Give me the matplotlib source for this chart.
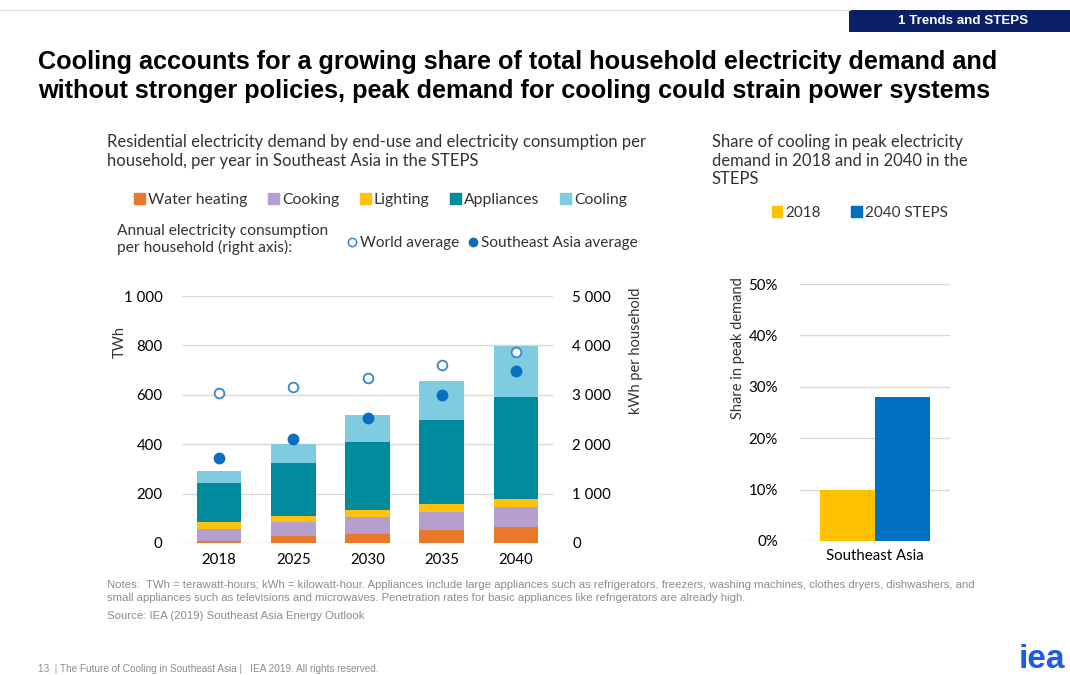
import matplotlib.pyplot as plt
import numpy as np
from matplotlib.patches import Patch, Rectangle
from matplotlib.lines import Line2D

plt.rcParams["font.family"] = ["Lato", "DejaVu Sans"]
plt.rcParams["font.size"] = 10.5
plt.rcParams["text.color"] = "#333333"

# data
years = ['2018', '2025', '2030', '2035', '2040']
water_heating = [10, 27, 38, 51, 66]
cooking = [47, 56, 67, 74, 79]
lighting = [26, 25, 30, 34, 35]
appliances = [159, 216, 273, 339, 412]
cooling = [50, 78, 112, 156, 206]
world_avg = [3040, 3150, 3345, 3594, 3870]      # kWh per household
sea_avg = [1730, 2107, 2537, 3001, 3486]

peak_region = ['Southeast Asia']
peak_2018 = [0.10]
peak_2040 = [0.28]

series = [('Water heating', water_heating, '#E8782A'),
          ('Cooking', cooking, '#B49FCE'),
          ('Lighting', lighting, '#FFC20E'),
          ('Appliances', appliances, '#008A9B'),
          ('Cooling', cooling, '#7FCCE0')]

fig = plt.figure(figsize=(10.7, 6.75), dpi=100)
W, H = 1070, 675

def fx(x):
    return x / W

def fy(y):
    return 1 - y / H

# slide decoration
fig.add_artist(Line2D([0, fx(850)], [fy(10), fy(10)], color='#d9d9d9', lw=0.8))
fig.add_artist(Rectangle((fx(849), fy(32)), fx(221), fy(10) - fy(32), color='#0B1F66', lw=0))
fig.text(fx(963), fy(21), '1 Trends and STEPS', color='white', fontsize=9.6, fontweight='bold',
         family=['Liberation Sans'], ha='center', va='center')

fig.text(fx(38), fy(62), 'Cooling accounts for a growing share of total household electricity demand and',
         fontsize=18.2, fontweight='bold', family=['Liberation Sans'], color='black', va='center')
fig.text(fx(38), fy(91), 'without stronger policies, peak demand for cooling could strain power systems',
         fontsize=18.2, fontweight='bold', family=['Liberation Sans'], color='black', va='center')

fig.text(fx(107), fy(134), 'Residential electricity demand by end-use and electricity consumption per\n'
         'household, per year in Southeast Asia in the STEPS', fontsize=12, va='top', linespacing=1.2)
fig.text(fx(712), fy(134), 'Share of cooling in peak electricity\ndemand in 2018 and in 2040 in the\nSTEPS',
         fontsize=12, va='top', linespacing=1.2)

# left chart
ax1 = fig.add_axes([fx(182), fy(543), fx(553 - 182), fy(296) - fy(543)])
x = np.arange(len(years))
bottom = np.zeros(len(years))
for name, vals, col in series:
    ax1.bar(x, vals, 0.6, bottom=bottom, color=col, label=name, zorder=2)
    bottom += np.array(vals)
ax1.set_xlim(-0.5, 4.5)
ax1.set_ylim(0, 1000)
ax1.set_yticks(range(0, 1001, 200))
ax1.set_yticklabels([f'{v:,}'.replace(',', ' ') for v in range(0, 1001, 200)])
ax1.set_xticks(x)
ax1.set_xticklabels(years)
ax1.grid(axis='y', color='#d9d9d9', lw=1, zorder=0)
ax1.tick_params(length=0, labelsize=10.8)
ax1.tick_params(axis='y', pad=14)
ax1.tick_params(axis='x', pad=7)
for s in ax1.spines.values():
    s.set_visible(False)

ax2 = ax1.twinx()
ax2.set_ylim(0, 5000)
ax2.set_yticks(range(0, 5001, 1000))
ax2.set_yticklabels([f'{v:,}'.replace(',', ' ') for v in range(0, 5001, 1000)])
ax2.tick_params(length=0, pad=14, labelsize=10.8)
for s in ax2.spines.values():
    s.set_visible(False)
ax2.plot(x, world_avg, 'o', ms=7, mfc='white', mec='#3A86C8', mew=1.3, zorder=3)
ax2.plot(x, sea_avg, 'o', ms=7.5, color='#0B6FC1', zorder=3)

fig.text(fx(120), fy(342), 'TWh', rotation=90, ha='center', va='center', fontsize=10.5)
fig.text(fx(636), fy(351), 'kWh per household', rotation=90, ha='center', va='center', fontsize=10.5)

handles = [Patch(color=c, label=n) for n, _, c in series]
fig.legend(handles=handles, loc='center left', bbox_to_anchor=(fx(126), fy(200)), ncol=5,
           frameon=False, handlelength=0.7, handleheight=0.7, handletextpad=0.2,
           columnspacing=1.3, borderpad=0, fontsize=11.3)

fig.text(fx(117), fy(224), 'Annual electricity consumption\nper household (right axis):',
         va='top', linespacing=1.2, fontsize=11.2)
mk = [Line2D([], [], ls='none', marker='o', ms=6, mfc='white', mec='#3A86C8', mew=1.1, label='World average'),
      Line2D([], [], ls='none', marker='o', ms=6, color='#0B6FC1', label='Southeast Asia average')]
fig.legend(handles=mk, loc='center left', bbox_to_anchor=(fx(338), fy(243)), ncol=2, frameon=False,
           handlelength=0.8, handletextpad=0.1, columnspacing=0.55, borderpad=0, fontsize=11.1)

# right chart
ax3 = fig.add_axes([fx(800), fy(541), fx(950 - 800), fy(284) - fy(541)])
bw = 0.35
ax3.bar([-bw / 2], peak_2018, bw, color='#FFC000', label='2018', zorder=2)
ax3.bar([bw / 2], peak_2040, bw, color='#0070C0', label='2040 STEPS', zorder=2)
ax3.set_xlim(-0.48, 0.48)
ax3.set_ylim(0, 0.5)
ax3.set_yticks(np.arange(0, 0.51, 0.1))
ax3.set_yticklabels([f'{int(round(v * 100))}%' for v in np.arange(0, 0.51, 0.1)])
ax3.set_xticks([0])
ax3.set_xticklabels(peak_region)
ax3.grid(axis='y', color='#d9d9d9', lw=1, zorder=0)
ax3.tick_params(length=0, labelsize=10.8)
ax3.tick_params(axis='y', pad=16)
ax3.tick_params(axis='x', pad=6)
for s in ax3.spines.values():
    s.set_visible(False)
fig.text(fx(738), fy(348), 'Share in peak demand', rotation=90, ha='center', va='center', fontsize=10.5)
fig.legend(handles=[Patch(color='#FFC000', label='2018'), Patch(color='#0070C0', label='2040 STEPS')],
           loc='center left', bbox_to_anchor=(fx(764), fy(213)), ncol=2, frameon=False,
           handlelength=0.7, handleheight=0.7, handletextpad=0.2, columnspacing=2.0,
           borderpad=0, fontsize=11)

# footer
note_font = ['Liberation Sans Narrow', 'Liberation Sans']
fig.text(fx(107), fy(585), 'Notes:  TWh = terawatt-hours; kWh = kilowatt-hour. Appliances include large appliances such as '
         'refrigerators, freezers, washing machines, clothes dryers, dishwashers, and', fontsize=8.2,
         color='#8c8c8c', family=note_font, va='center')
fig.text(fx(107), fy(598), 'small appliances such as televisions and microwaves. Penetration rates for basic appliances '
         'like refrigerators are already high.', fontsize=8.2, color='#8c8c8c', family=note_font, va='center')
fig.text(fx(107), fy(616), 'Source: IEA (2019) Southeast Asia Energy Outlook', fontsize=8.2,
         color='#8c8c8c', family=note_font, va='center')
fig.text(fx(38), fy(669), '13  | The Future of Cooling in Southeast Asia |   IEA 2019. All rights reserved.',
         fontsize=7.2, color='#8c8c8c', family=note_font, va='center')
fig.text(fx(1065), fy(675), 'iea', fontsize=24, fontweight='heavy', color='#1E5BE6',
         family=['Liberation Sans'], ha='right', va='bottom')

plt.savefig('out.png', dpi=100)
